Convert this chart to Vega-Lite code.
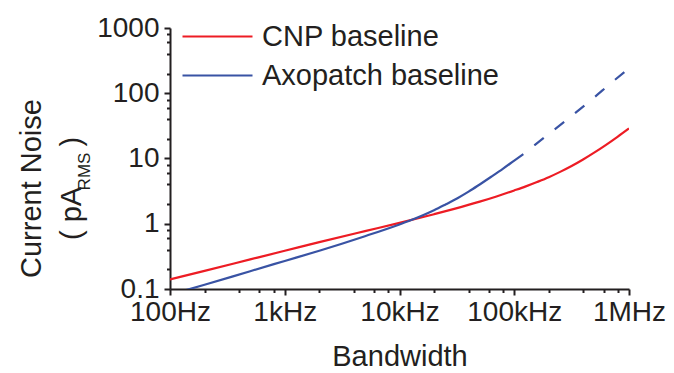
{
  "$schema": "https://vega.github.io/schema/vega-lite/v6.json",
  "width": 459,
  "height": 261,
  "autosize": {"type": "none"},
  "padding": {"left": 170, "top": 28, "right": 45, "bottom": 84},
  "background": "white",
  "config": {
    "view": {"stroke": null},
    "font": "Liberation Sans",
    "axis": {
      "grid": false,
      "ticks": true,
      "domainColor": "#231f20",
      "domainWidth": 2,
      "tickColor": "#231f20",
      "tickWidth": 2,
      "tickOpacity": 1,
      "labelColor": "#231f20",
      "labelFont": "Liberation Sans",
      "labelFontSize": 28,
      "titleColor": "#231f20",
      "titleFont": "Liberation Sans",
      "titleFontSize": 29,
      "titleFontWeight": "normal",
      "labelOverlap": false,
      "labelFlush": false
    }
  },
  "data": {
    "values": [
      {"f": 100, "noise": 0.14, "series": "CNP baseline", "seg": "solid"},
      {"f": 200, "noise": 0.19, "series": "CNP baseline", "seg": "solid"},
      {"f": 500, "noise": 0.284, "series": "CNP baseline", "seg": "solid"},
      {"f": 1000, "noise": 0.385, "series": "CNP baseline", "seg": "solid"},
      {"f": 2000, "noise": 0.523, "series": "CNP baseline", "seg": "solid"},
      {"f": 5000, "noise": 0.771, "series": "CNP baseline", "seg": "solid"},
      {"f": 10000, "noise": 1.03, "series": "CNP baseline", "seg": "solid"},
      {"f": 20000, "noise": 1.4, "series": "CNP baseline", "seg": "solid"},
      {"f": 30000, "noise": 1.69, "series": "CNP baseline", "seg": "solid"},
      {"f": 50000, "noise": 2.18, "series": "CNP baseline", "seg": "solid"},
      {"f": 70000, "noise": 2.62, "series": "CNP baseline", "seg": "solid"},
      {"f": 100000, "noise": 3.24, "series": "CNP baseline", "seg": "solid"},
      {"f": 126000, "noise": 3.74, "series": "CNP baseline", "seg": "solid"},
      {"f": 158000, "noise": 4.36, "series": "CNP baseline", "seg": "solid"},
      {"f": 200000, "noise": 5.17, "series": "CNP baseline", "seg": "solid"},
      {"f": 251000, "noise": 6.24, "series": "CNP baseline", "seg": "solid"},
      {"f": 316000, "noise": 7.67, "series": "CNP baseline", "seg": "solid"},
      {"f": 398000, "noise": 9.66, "series": "CNP baseline", "seg": "solid"},
      {"f": 501000, "noise": 12.4, "series": "CNP baseline", "seg": "solid"},
      {"f": 631000, "noise": 16.2, "series": "CNP baseline", "seg": "solid"},
      {"f": 794000, "noise": 21.5, "series": "CNP baseline", "seg": "solid"},
      {"f": 1000000, "noise": 28.9, "series": "CNP baseline", "seg": "solid"},
      {"f": 100, "noise": 0.082, "series": "Axopatch baseline", "seg": "solid"},
      {"f": 200, "noise": 0.116, "series": "Axopatch baseline", "seg": "solid"},
      {"f": 500, "noise": 0.1875, "series": "Axopatch baseline", "seg": "solid"},
      {"f": 1000, "noise": 0.269, "series": "Axopatch baseline", "seg": "solid"},
      {"f": 2000, "noise": 0.386, "series": "Axopatch baseline", "seg": "solid"},
      {"f": 5000, "noise": 0.645, "series": "Axopatch baseline", "seg": "solid"},
      {"f": 10000, "noise": 0.977, "series": "Axopatch baseline", "seg": "solid"},
      {"f": 12500, "noise": 1.13, "series": "Axopatch baseline", "seg": "solid"},
      {"f": 16000, "noise": 1.35, "series": "Axopatch baseline", "seg": "solid"},
      {"f": 20000, "noise": 1.61, "series": "Axopatch baseline", "seg": "solid"},
      {"f": 25000, "noise": 1.96, "series": "Axopatch baseline", "seg": "solid"},
      {"f": 32000, "noise": 2.46, "series": "Axopatch baseline", "seg": "solid"},
      {"f": 40000, "noise": 3.1, "series": "Axopatch baseline", "seg": "solid"},
      {"f": 50000, "noise": 4.0, "series": "Axopatch baseline", "seg": "solid"},
      {"f": 63000, "noise": 5.25, "series": "Axopatch baseline", "seg": "solid"},
      {"f": 80000, "noise": 7.0, "series": "Axopatch baseline", "seg": "solid"},
      {"f": 100000, "noise": 9.3, "series": "Axopatch baseline", "seg": "solid"},
      {"f": 120000, "noise": 11.7, "series": "Axopatch baseline", "seg": "solid"},
      {"f": 120000, "noise": 11.7, "series": "Axopatch baseline", "seg": "dashed"},
      {"f": 200000, "noise": 23.8, "series": "Axopatch baseline", "seg": "dashed"},
      {"f": 300000, "noise": 41.7, "series": "Axopatch baseline", "seg": "dashed"},
      {"f": 500000, "noise": 87, "series": "Axopatch baseline", "seg": "dashed"},
      {"f": 700000, "noise": 144, "series": "Axopatch baseline", "seg": "dashed"},
      {"f": 1000000, "noise": 240, "series": "Axopatch baseline", "seg": "dashed"}
    ]
  },
  "layer": [
    {
      "transform": [{"filter": "datum.seg == 'solid'"}],
      "mark": {"type": "line", "clip": true, "strokeWidth": 2.2, "interpolate": "monotone"},
      "encoding": {
        "x": {
          "field": "f",
          "type": "quantitative",
          "scale": {"type": "log", "domain": [100, 1000000], "nice": false},
          "axis": {
            "title": "Bandwidth",
            "titleY": 53,
            "values": [100, 1000, 10000, 100000, 1000000],
            "labelExpr": "datum.value == 100 ? '100Hz' : datum.value == 1000 ? '1kHz' : datum.value == 10000 ? '10kHz' : datum.value == 100000 ? '100kHz' : '1MHz'",
            "ticks": true,
            "tickSize": 6,
            "tickColor": "#231f20",
            "labelPadding": 3
          }
        },
        "y": {
          "field": "noise",
          "type": "quantitative",
          "scale": {"type": "log", "domain": [0.1, 1000], "nice": false},
          "axis": {
            "title": ["Current Noise", "( pA\u00a0\u00a0\u00a0\u00a0\u00a0)"],
            "titleAngle": 270,
            "titleAlign": "center",
            "titleBaseline": "alphabetic",
            "titleX": -130,
            "titleY": 160,
            "titleLineHeight": 40,
            "values": [0.1, 1, 10, 100, 1000],
            "labelExpr": "datum.value == 0.1 ? '0.1' : format(datum.value, 'd')",
            "ticks": true,
            "tickSize": 6,
            "tickColor": "#231f20",
            "labelPadding": 5
          }
        },
        "color": {
          "field": "series",
          "type": "nominal",
          "scale": {"domain": ["CNP baseline", "Axopatch baseline"], "range": ["#ed1c24", "#3953a4"]},
          "legend": {
            "orient": "none",
            "legendX": 11,
            "legendY": -10,
            "title": null,
            "labelFont": "Liberation Sans",
            "labelFontSize": 29,
            "labelColor": "#231f20",
            "labelLimit": 500,
            "symbolType": "stroke",
            "symbolSize": 4900,
            "symbolStrokeWidth": 2.2,
            "labelOffset": 8,
            "clipHeight": 37,
            "rowPadding": 2,
            "padding": 0
          }
        }
      }
    },
    {
      "transform": [{"filter": "datum.seg == 'dashed'"}],
      "mark": {"type": "line", "clip": true, "strokeWidth": 2.2, "color": "#3953a4", "strokeDash": [12, 14], "strokeDashOffset": 12, "interpolate": "monotone"},
      "encoding": {
        "x": {
          "field": "f",
          "type": "quantitative",
          "scale": {"type": "log", "domain": [100, 1000000], "nice": false},
          "axis": {
            "orient": "bottom",
            "title": null,
            "domain": false,
            "labels": false,
            "ticks": true,
            "tickColor": "#231f20",
            "values": [200, 400, 600, 800, 2000, 4000, 6000, 8000, 20000, 40000, 60000, 80000, 200000, 400000, 600000, 800000],
            "tickSize": 3.5
          }
        },
        "y": {
          "field": "noise",
          "type": "quantitative",
          "scale": {"type": "log", "domain": [0.1, 1000], "nice": false},
          "axis": {
            "orient": "left",
            "title": "RMS",
            "titleFontSize": 17,
            "titleAngle": 270,
            "titleAlign": "center",
            "titleBaseline": "alphabetic",
            "titleX": -81,
            "titleY": 143,
            "domain": false,
            "labels": false,
            "ticks": true,
            "tickColor": "#231f20",
            "values": [0.2, 0.4, 0.6, 0.8, 2, 4, 6, 8, 20, 40, 60, 80, 200, 400, 600, 800],
            "tickSize": 3.5
          }
        }
      }
    }
  ],
  "resolve": {"axis": {"x": "independent", "y": "independent"}}
}
